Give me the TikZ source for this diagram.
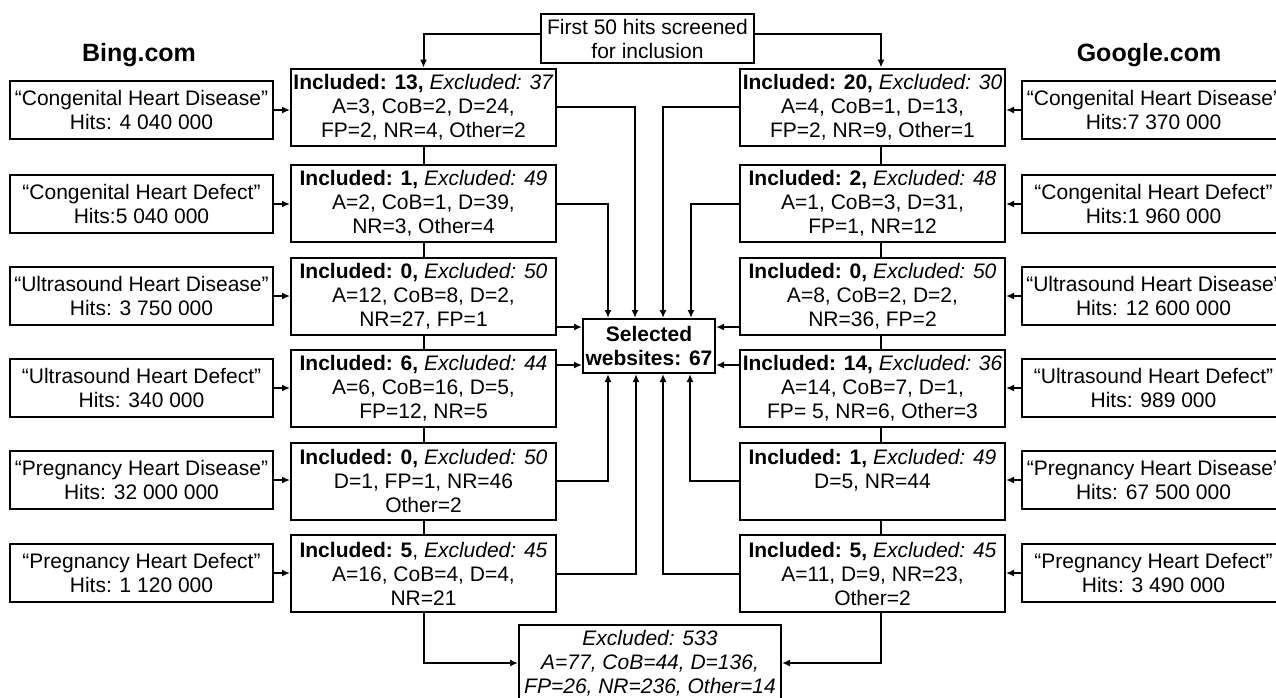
\documentclass[tikz,border=0pt]{standalone}
\usepackage{fontspec}
\setmainfont{Liberation Sans}
\usetikzlibrary{arrows.meta,calc}
\newcommand\fsz{\fontsize{21}{24}\selectfont}
\newcommand\inc[1]{\textbf{Included: #1,} \textit{Excluded:}}
\begin{document}
\begin{tikzpicture}[x=1pt,y=-1pt,
  box/.style={draw, line width=2pt, align=center, inner sep=0pt, font=\fsz},
  src/.style={box, minimum width=263pt, minimum height=58pt},
  mid/.style={box, minimum width=265pt, minimum height=77pt},
  arr/.style={-{Latex[length=8pt,width=7pt]}, line width=2pt},
  ln/.style={line width=2pt},
  title/.style={font=\fontsize{25}{28}\selectfont\bfseries, inner sep=0pt}]
\useasboundingbox (0,0) rectangle (1276,697);
\fill[white] (0,0) rectangle (1276,697);

% titles
\node[title] (bing) at (139,55) {Bing.com};
\node[title] (goog) at (1149,55) {Google.com};

% top box
\node[box, minimum width=213pt, minimum height=49pt] (top) at (647.5,38.5) {First 50 hits screened\\for inclusion};

% selected
\node[box, minimum width=132pt, minimum height=54pt, font=\fsz\bfseries] (sel) at (649,346) {Selected\\websites: 67};

% excluded total
\node[box, minimum width=262pt, minimum height=76pt, font=\fsz\itshape] (exc) at (650,663) {Excluded: 533\\A=77, CoB=44, D=136,\\FP=26, NR=236, Other=14};

% left sources
\node[src] (ls1) at (141.5,110) {“Congenital Heart Disease”\\Hits: 4 040 000};
\node[src] (ls2) at (141.5,204) {“Congenital Heart Defect”\\Hits:5 040 000};
\node[src] (ls3) at (141.5,296) {“Ultrasound Heart Disease”\\Hits: 3 750 000};
\node[src] (ls4) at (141.5,388) {“Ultrasound Heart Defect”\\Hits: 340 000};
\node[src] (ls5) at (141.5,480) {“Pregnancy Heart Disease”\\Hits: 32 000 000};
\node[src] (ls6) at (141.5,573) {“Pregnancy Heart Defect”\\Hits: 1 120 000};

% right sources
\node[src] (rs1) at (1153.5,110) {“Congenital Heart Disease”\\Hits:7 370 000};
\node[src] (rs2) at (1153.5,204) {“Congenital Heart Defect”\\Hits:1 960 000};
\node[src] (rs3) at (1153.5,296) {“Ultrasound Heart Disease”\\Hits: 12 600 000};
\node[src] (rs4) at (1153.5,388) {“Ultrasound Heart Defect”\\Hits: 989 000};
\node[src] (rs5) at (1153.5,480) {“Pregnancy Heart Disease”\\Hits: 67 500 000};
\node[src] (rs6) at (1153.5,573) {“Pregnancy Heart Defect”\\Hits: 3 490 000};

% left middle
\node[mid] (lm1) at (423.5,107) {\inc{13} \textit{37}\\A=3, CoB=2, D=24,\\FP=2, NR=4, Other=2};
\node[mid] (lm2) at (423.5,203.5) {\inc{1} \textit{49}\\A=2, CoB=1, D=39,\\NR=3, Other=4};
\node[mid] (lm3) at (423.5,296.5) {\inc{0} \textit{50}\\A=12, CoB=8, D=2,\\NR=27, FP=1};
\node[mid] (lm4) at (423.5,388.5) {\inc{6} \textit{44}\\A=6, CoB=16, D=5,\\FP=12, NR=5};
\node[mid] (lm5) at (423.5,481) {\inc{0} \textit{50}\\D=1, FP=1, NR=46\\Other=2};
\node[mid] (lm6) at (423.5,573.5) {\textbf{Included: 5}, \textit{Excluded: 45}\\A=16, CoB=4, D=4,\\NR=21};

% right middle
\node[mid] (rm1) at (872.5,107) {\inc{20} \textit{30}\\A=4, CoB=1, D=13,\\FP=2, NR=9, Other=1};
\node[mid] (rm2) at (872.5,203.5) {\inc{2} \textit{48}\\A=1, CoB=3, D=31,\\FP=1, NR=12};
\node[mid] (rm3) at (872.5,296.5) {\inc{0} \textit{50}\\A=8, CoB=2, D=2,\\NR=36, FP=2};
\node[mid] (rm4) at (872.5,388.5) {\inc{14} \textit{36}\\A=14, CoB=7, D=1,\\FP= 5, NR=6, Other=3};
\node[mid] (rm5) at (872.5,481) {\inc{1} \textit{49}\\D=5, NR=44\\\mbox{}};
\node[mid] (rm6) at (872.5,573.5) {\inc{5} \textit{45}\\A=11, D=9, NR=23,\\Other=2};

% top box to first boxes
\draw[arr] ([yshift=5pt]top.west) -| (lm1.north);
\draw[arr] ([yshift=5pt]top.east) -| ([xshift=8.5pt]rm1.north);

% source to middle
\foreach \i in {1,...,6}{
  \draw[arr] (ls\i.east) -- (ls\i.east -| lm\i.west);
  \draw[arr] (rs\i.west) -- (rs\i.west -| rm\i.east);
}

% vertical chains
\foreach \i/\j in {1/2,2/3,3/4,4/5,5/6}{
  \draw[ln] (lm\i.south) -- (lm\j.north);
  \draw[ln] ([xshift=8.5pt]rm\i.south) -- ([xshift=8.5pt]rm\j.north);
}

% to selected, from above
\draw[arr] (lm1.east) -| ([xshift=-14pt]sel.north);
\draw[arr] (lm2.east) -| ([xshift=-41pt]sel.north);
\draw[arr] (rm1.west) -| ([xshift=14pt]sel.north);
\draw[arr] (rm2.west) -| ([xshift=42pt]sel.north);
% side
\draw[arr] ([yshift=19pt]sel.west -| lm3.east) -- ([yshift=19pt]sel.west);
\draw[arr] ([yshift=-19pt]sel.west -| lm4.east) -- ([yshift=-19pt]sel.west);
\draw[arr] ([yshift=19pt]sel.east -| rm3.west) -- ([yshift=19pt]sel.east);
\draw[arr] ([yshift=-19pt]sel.east -| rm4.west) -- ([yshift=-19pt]sel.east);
% from below
\draw[arr] (lm5.east) -| ([xshift=-41pt]sel.south);
\draw[arr] (lm6.east) -| ([xshift=-13pt]sel.south);
\draw[arr] (rm6.west) -| ([xshift=14pt]sel.south);
\draw[arr] (rm5.west) -| ([xshift=41pt]sel.south);

% to excluded
\draw[arr] (lm6.south) |- (exc.west);
\draw[arr] ([xshift=8.5pt]rm6.south) |- (exc.east);
\end{tikzpicture}
\end{document}
